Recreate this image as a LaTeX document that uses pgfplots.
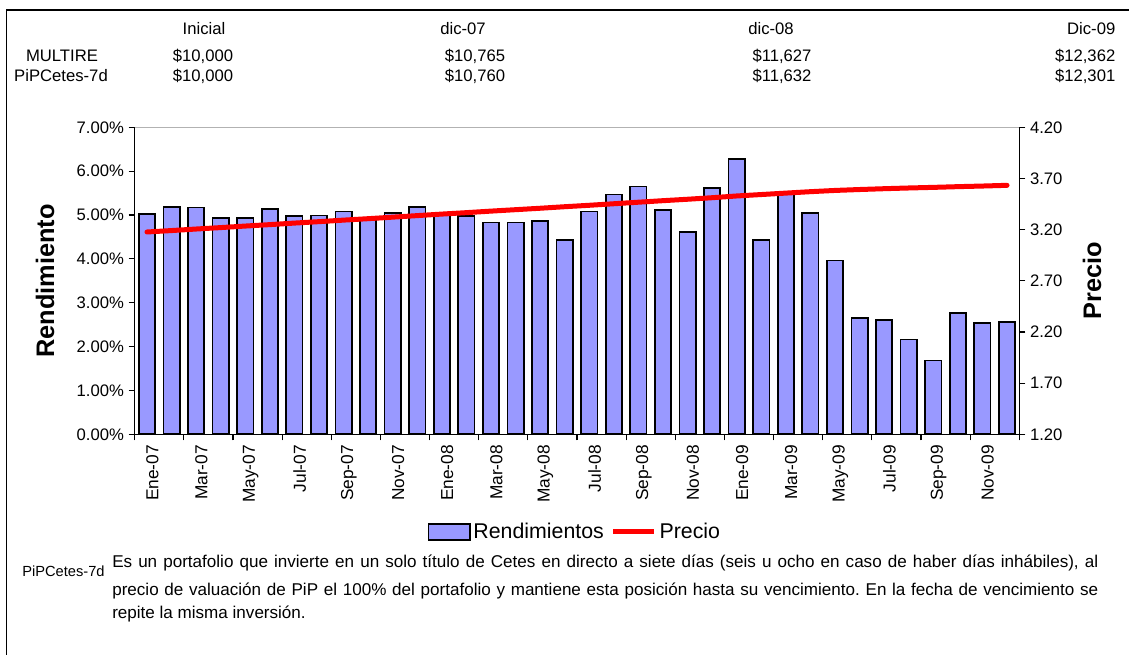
\documentclass[border=0pt]{standalone}
\usepackage{pgfplots}
\pgfplotsset{compat=1.18}
\usepackage{pgfplotstable}
\usepackage{fontspec}
\setmainfont{Liberation Sans}
\frenchspacing
\definecolor{barfill}{HTML}{9999FF}
\definecolor{linered}{HTML}{FF0000}

\pgfplotsset{
  barleg/.style={legend image code/.code={\draw[##1] (0pt,-6.2pt) rectangle (31pt,6.2pt);}},
  lineleg/.style={legend image code/.code={\draw[##1,line cap=butt] (0pt,0pt) -- (31pt,0pt);}},
}

\pgfplotstableread{
m r p
1 5.02 3.177
2 5.19 3.191
3 5.17 3.206
4 4.93 3.220
5 4.94 3.235
6 5.13 3.249
7 4.97 3.264
8 4.99 3.278
9 5.08 3.293
10 4.92 3.307
11 5.05 3.322
12 5.19 3.337
13 5.00 3.352
14 4.98 3.366
15 4.83 3.381
16 4.83 3.395
17 4.87 3.409
18 4.43 3.424
19 5.08 3.438
20 5.47 3.453
21 5.65 3.468
22 5.12 3.483
23 4.61 3.497
24 5.62 3.512
25 6.28 3.529
26 4.43 3.543
27 5.50 3.557
28 5.05 3.571
29 3.96 3.583
30 2.66 3.592
31 2.60 3.600
32 2.16 3.607
33 1.68 3.613
34 2.77 3.620
35 2.54 3.626
36 2.56 3.633
}\data

\newcommand{\tabfont}{\fontsize{12.5}{14}\selectfont}
\newcommand{\tickfont}{\fontsize{12.5}{14}\selectfont}

\begin{document}
\begin{tikzpicture}
\begin{scope}[x=0.75pt,y=0.75pt]
\useasboundingbox (0,0) rectangle (1129,654);
\draw[line width=1.1pt] (6.7,-5) -- (6.7,644) -- (1140,644);

% top table
\node[anchor=base,font=\tabfont] at (204,619) {Inicial};
\node[anchor=base,font=\tabfont] at (463,619) {dic-07};
\node[anchor=base,font=\tabfont] at (771,619) {dic-08};
\node[anchor=base east,font=\tabfont] at (1120,619) {Dic-09};
\node[anchor=base,font=\tabfont] at (62,592) {MULTIRE};
\node[anchor=base,font=\tabfont] at (61,572) {PiPCetes-7d};
\node[anchor=base,font=\tabfont] at (203,592) {\$10,000};
\node[anchor=base,font=\tabfont] at (203,572) {\$10,000};
\node[anchor=base,font=\tabfont] at (475,592) {\$10,765};
\node[anchor=base,font=\tabfont] at (475,572) {\$10,760};
\node[anchor=base,font=\tabfont] at (782,592) {\$11,627};
\node[anchor=base,font=\tabfont] at (782,572) {\$11,632};
\node[anchor=base east,font=\tabfont] at (1120,592) {\$12,362};
\node[anchor=base east,font=\tabfont] at (1120,572) {\$12,301};

% footnote
\node[anchor=base west,font=\fontsize{11}{13}\selectfont,inner sep=0pt] at (22,77) {PiPCetes-7d};
\node[anchor=base west,font=\fontsize{12.8}{14}\selectfont,inner sep=0pt] at (112,86) {\makebox[739.5pt][s]{Es un portafolio que invierte en un solo título de Cetes en directo a siete días (seis u ocho en caso de haber días inhábiles), al}};
\node[anchor=base west,font=\fontsize{12.8}{14}\selectfont,inner sep=0pt] at (112,59) {\makebox[739.5pt][s]{precio de valuación de PiP el 100\% del portafolio y mantiene esta posición hasta su vencimiento. En la fecha de vencimiento se}};
\node[anchor=base west,font=\fontsize{12.8}{14}\selectfont,inner sep=0pt] at (112,36) {repite la misma inversión.};
\end{scope}

\begin{axis}[
  at={(101.025pt,164.775pt)}, anchor=south west,
  scale only axis, width=663.45pt, height=230.25pt,
  xmin=0.5, xmax=36.5, ymin=0, ymax=7,
  axis x line*=bottom, axis y line*=left,
  axis line style={black, line width=0.8pt},
  tick align=outside, major tick length=4.5pt, minor tick length=4.5pt,
  tick style={black, line width=0.8pt},
  xtick={1,3,...,35}, major x tick style={draw=none},
  minor xtick={0.5,2.5,...,36.5},
  xticklabels={Ene-07,Mar-07,May-07,Jul-07,Sep-07,Nov-07,Ene-08,Mar-08,May-08,Jul-08,Sep-08,Nov-08,Ene-09,Mar-09,May-09,Jul-09,Sep-09,Nov-09},
  xticklabel style={rotate=90, anchor=east, font=\fontsize{13}{15}\selectfont, yshift=-4pt},
  ytick={0,1,...,7},
  yticklabel={\pgfmathprintnumber[fixed,fixed zerofill,precision=2]{\tick}\%},
  yticklabel style={font=\tickfont},
  /pgf/number format/assume math mode=true,
  ylabel={Rendimiento},
  ylabel style={at={(axis description cs:-0.1014,0.5)}, anchor=center, rotate=0, font=\fontsize{19}{22}\selectfont\bfseries},
]
\draw[gray!60, line width=0.8pt] (rel axis cs:0,1) -- (rel axis cs:1,1);
\addplot[ybar, bar width=0.665, fill=barfill, draw=black, line width=1.3pt] table[x=m,y=r]{\data};
\end{axis}

\begin{axis}[
  at={(101.025pt,164.775pt)}, anchor=south west,
  scale only axis, width=663.45pt, height=230.25pt,
  xmin=0.5, xmax=36.5, ymin=1.2, ymax=4.2,
  axis x line=none, axis y line*=right,
  axis line style={black, line width=0.8pt},
  tick align=outside, major tick length=4.5pt,
  tick style={black, line width=0.8pt},
  ytick={1.2,1.7,2.2,2.7,3.2,3.7,4.2},
  yticklabel={\pgfmathprintnumber[fixed,fixed zerofill,precision=2]{\tick}},
  yticklabel style={font=\tickfont},
  /pgf/number format/assume math mode=true,
  ylabel={Precio},
  ylabel style={at={(axis description cs:1.0822,0.5)}, anchor=center, rotate=0, font=\fontsize{19}{22}\selectfont\bfseries},
  legend style={at={(axis description cs:0.498,-0.318)}, anchor=center, draw=none, fill=none,
    legend columns=2, font=\fontsize{16}{18}\selectfont,
    /tikz/every even column/.append style={column sep=3pt}},
  legend cell align=left,
]
\addlegendimage{fill=barfill, draw=black, line width=1.3pt, barleg}
\addlegendentry{Rendimientos}
\addplot[linered, line width=3.75pt, line cap=round, line join=round, lineleg] table[x=m,y=p]{\data};
\addlegendentry{Precio}
\end{axis}
\end{tikzpicture}
\end{document}
